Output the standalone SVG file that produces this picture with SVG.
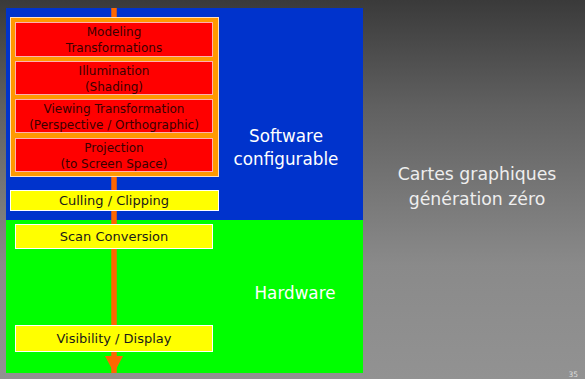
<svg xmlns="http://www.w3.org/2000/svg" width="585" height="379" viewBox="0 0 585 379">
<defs>
<linearGradient id="bg" x1="0" y1="0" x2="0" y2="1">
<stop offset="0" stop-color="#3a3a3a"/>
<stop offset="0.28" stop-color="#606060"/>
<stop offset="0.7" stop-color="#8a8a8a"/>
<stop offset="1" stop-color="#929292"/>
</linearGradient>
<marker id="ah" markerWidth="17" markerHeight="18" refX="17" refY="9" orient="auto" markerUnits="userSpaceOnUse">
<path d="M0,0 L17,9 L0,18 Z" fill="#ff6600"/>
</marker>
</defs>
<style>
.red{fill:#ff0000;stroke:#ffb0b0;stroke-width:1}
.yel{fill:#ffff00;stroke:#ffffff;stroke-width:1}
.rt{font-family:"DejaVu Sans",Verdana,sans-serif;font-size:12px;fill:#3a0000;text-anchor:middle}
.yt{font-family:"DejaVu Sans",Verdana,sans-serif;font-size:13px;fill:#1a1a1a;text-anchor:middle}
.wt{font-family:"DejaVu Sans",Verdana,sans-serif;font-size:16.8px;fill:#ffffff;text-anchor:middle}
.gt{font-family:"DejaVu Sans",Verdana,sans-serif;font-size:17.3px;fill:#eeeeee;text-anchor:middle}
</style>
<rect x="0" y="0" width="585" height="379" fill="url(#bg)"/>
<rect x="6" y="8" width="357" height="212" fill="#0033cc"/>
<rect x="6" y="220" width="357" height="153" fill="#00ff00"/>
<text class="wt" x="286" y="142">Software</text>
<text class="wt" x="286" y="165">configurable</text>
<text class="wt" x="295" y="299">Hardware</text>
<text class="gt" x="477" y="180">Cartes graphiques</text>
<text class="gt" x="477" y="205">génération zéro</text>
<text x="578" y="377" font-family="DejaVu Sans,Verdana,sans-serif" font-size="7.5" fill="#dddddd" text-anchor="end">35</text>
<g id="connectors">
<line x1="114" y1="8" x2="114" y2="373" stroke="#ff6600" stroke-width="5.5" marker-end="url(#ah)"/>
</g>
<g id="software-group">
<rect x="10.5" y="17.5" width="208" height="159" fill="#ff9900" stroke="#ffe0c0" stroke-width="1"/>
</g>
<g id="modeling">
<rect class="red" x="15.5" y="22.5" width="197" height="34"/>
<text class="rt" x="114" y="36">Modeling</text>
<text class="rt" x="114" y="52">Transformations</text>
</g>
<g id="illumination">
<rect class="red" x="15.5" y="61.5" width="197" height="33"/>
<text class="rt" x="114" y="75">Illumination</text>
<text class="rt" x="114" y="91">(Shading)</text>
</g>
<g id="viewing">
<rect class="red" x="15.5" y="99.5" width="197" height="33"/>
<text class="rt" x="114" y="113">Viewing Transformation</text>
<text class="rt" x="114" y="129">(Perspective / Orthographic)</text>
</g>
<g id="projection">
<rect class="red" x="15.5" y="138.5" width="197" height="33"/>
<text class="rt" x="114" y="152">Projection</text>
<text class="rt" x="114" y="168">(to Screen Space)</text>
</g>
<g id="culling">
<rect class="yel" x="10.5" y="190.5" width="208" height="20"/>
<text class="yt" x="114" y="205">Culling / Clipping</text>
</g>
<g id="scan">
<rect class="yel" x="15.5" y="224.5" width="197" height="24"/>
<text class="yt" x="114" y="241">Scan Conversion</text>
</g>
<g id="visibility">
<rect class="yel" x="15.5" y="325.5" width="197" height="26"/>
<text class="yt" x="114" y="343">Visibility / Display</text>
</g>
</svg>
